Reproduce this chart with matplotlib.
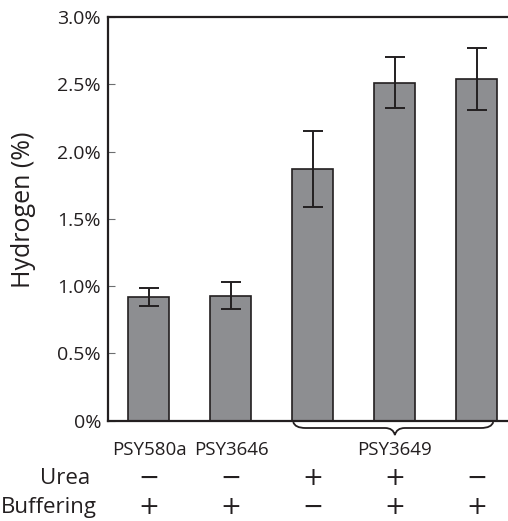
"""
plot.py

Hydrogen content by strain and growth condition, bar chart with error bars.
"""

import matplotlib
matplotlib.use("Agg")
import matplotlib.pyplot as plt
from matplotlib.path import Path
from matplotlib.patches import PathPatch
from matplotlib.ticker import FuncFormatter
import matplotlib.transforms as mtransforms


strains = ["PSY580a", "PSY3646", "PSY3649", "PSY3649", "PSY3649"]
hydrogen = [0.92, 0.93, 1.87, 2.51, 2.54]
errors = [0.065, 0.10, 0.28, 0.19, 0.23]
urea = ["−", "−", "+", "+", "−"]
buffering = ["+", "+", "−", "+", "+"]
yticks = [0, 0.5, 1.0, 1.5, 2.0, 2.5, 3.0]

FONT = ["Open Sans", "DejaVu Sans"]
DARK = "#231f20"
BAR = "#8d8e91"


def pct(v, pos):
    return "0%" if v == 0 else f"{v:.1f}%"


def make_plot():
    plt.rcParams["font.family"] = FONT

    fig = plt.figure(figsize=(5.08, 5.21), dpi=100)
    ax = fig.add_axes([0.2126, 0.1925, 0.7874, 0.7749])

    x = list(range(len(hydrogen)))
    ax.bar(x, hydrogen, width=0.5, color=BAR, edgecolor=DARK, linewidth=1.2)
    ax.errorbar(x, hydrogen, yerr=errors, fmt="none", ecolor=DARK,
                elinewidth=1.4, capsize=7, capthick=1.4)

    ax.set_xlim(-0.5, 4.38)
    ax.set_ylim(0, 3.0)
    ax.set_yticks(yticks)
    ax.yaxis.set_major_formatter(FuncFormatter(pct))
    ax.tick_params(axis="y", direction="in", length=5, width=0.8,
                   color="#6d6e70", labelsize=14, pad=5, labelcolor=DARK)
    ax.set_xticks([])

    for side in ["top", "left", "bottom"]:
        ax.spines[side].set_linewidth(1.6)
        ax.spines[side].set_color(DARK)
    ax.spines["right"].set_visible(False)

    fig.text(0.047, 0.597, "Hydrogen (%)", rotation=90, ha="center",
             va="center", fontsize=18, color=DARK)

    trans = mtransforms.blended_transform_factory(ax.transData, fig.transFigure)

    # strain names, PSY3649 shared by the last three bars
    ax.text(0, 0.136, strains[0], transform=trans, ha="center", va="center",
            fontsize=13.5, color=DARK)
    ax.text(1, 0.136, strains[1], transform=trans, ha="center", va="center",
            fontsize=13.5, color=DARK)
    ax.text(3, 0.136, strains[2], transform=trans, ha="center", va="center",
            fontsize=13.5, color=DARK)

    # curly brace under the PSY3649 group
    x0, x1, xm = 1.76, 4.2, 3.0
    yt, yf, yb = 0.190, 0.1785, 0.165
    verts = [
        (x0, yt), (x0 + 0.02, yf), (x0 + 0.15, yf),
        (xm - 0.12, yf), (xm - 0.02, yf), (xm, yb),
        (xm + 0.02, yf), (xm + 0.12, yf),
        (x1 - 0.15, yf), (x1 - 0.02, yf), (x1, yt),
    ]
    codes = [
        Path.MOVETO, Path.CURVE3, Path.CURVE3,
        Path.LINETO, Path.CURVE3, Path.CURVE3,
        Path.CURVE3, Path.CURVE3,
        Path.LINETO, Path.CURVE3, Path.CURVE3,
    ]
    brace = PathPatch(Path(verts, codes), transform=trans, fill=False,
                      edgecolor=DARK, linewidth=1.3, clip_on=False)
    ax.add_artist(brace)

    # condition rows
    fig.text(0.178, 0.0825, "Urea", ha="right", va="center", fontsize=16,
             color=DARK)
    fig.text(0.191, 0.025, "Buffering", ha="right", va="center", fontsize=16,
             color=DARK)
    for i in x:
        ax.text(i, 0.0825, urea[i], transform=trans, ha="center",
                va="center", fontsize=18, color=DARK, family="DejaVu Sans")
        ax.text(i, 0.027, buffering[i], transform=trans, ha="center",
                va="center", fontsize=18, color=DARK, family="DejaVu Sans")

    fig.savefig("out.png", dpi=100)


if __name__ == "__main__":
    make_plot()
